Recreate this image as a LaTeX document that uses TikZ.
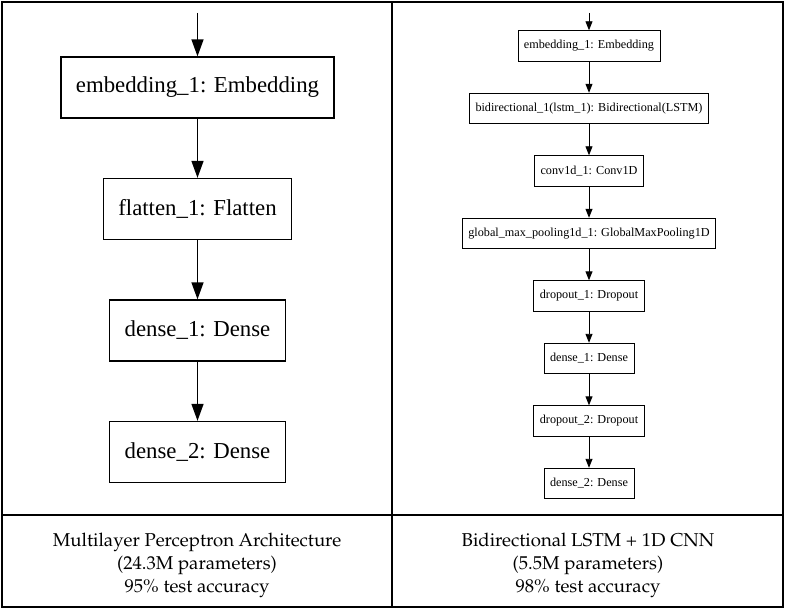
\documentclass[tikz,border=0pt]{standalone}
\usepackage[T1]{fontenc}
\usepackage{fontspec}
\setmainfont{Liberation Serif}
\newfontfamily\layerfont{Liberation Serif}
\usetikzlibrary{positioning,arrows.meta}

\newcommand{\capfont}{\fontencoding{T1}\fontfamily{ppl}\fontsize{18.6}{23}\selectfont}

\tikzset{
  bigbox/.style={draw,line width=1.3pt,font=\layerfont\fontsize{22.8}{27}\selectfont,
    minimum height=61pt,inner xsep=15pt},
  smallbox/.style={draw,line width=0.9pt,font=\layerfont\fontsize{12.2}{14}\selectfont,
    minimum height=30.5pt,inner xsep=6pt},
  bigflow/.style={-{Triangle[length=17pt,width=12pt]},line width=1.4pt},
  smallflow/.style={-{Triangle[length=9pt,width=7pt]},line width=0.9pt},
  caption/.style={align=center,font=\capfont}
}

\begin{document}
\begin{tikzpicture}[x=1pt,y=-1pt,on grid]
  \useasboundingbox (0,0) rectangle (786,612);
  % table
  \draw[line width=1.5pt] (2,2) rectangle (783,607);
  \draw[line width=1.5pt] (392,2) -- (392,607);
  \draw[line width=1.5pt] (2,515) -- (783,515);

  % left: multilayer perceptron
  \begin{scope}[node distance=121.5pt]
    \coordinate (mlp_in) at (197.5,13);
    \node[bigbox] (mlp_emb) at (197.5,87.5) {embedding\_1: Embedding};
    \node[bigbox] (mlp_flat) [below=of mlp_emb] {flatten\_1: Flatten};
    \node[bigbox] (mlp_d1) [below=of mlp_flat] {dense\_1: Dense};
    \node[bigbox] (mlp_d2) [below=of mlp_d1] {dense\_2: Dense};
    \draw[bigflow] (mlp_in) -- (mlp_emb);
    \draw[bigflow] (mlp_emb) -- (mlp_flat);
    \draw[bigflow] (mlp_flat) -- (mlp_d1);
    \draw[bigflow] (mlp_d1) -- (mlp_d2);
  \end{scope}

  % right: bidirectional lstm + cnn
  \begin{scope}[node distance=62.5pt]
    \coordinate (cnn_in) at (589,13);
    \node[smallbox] (cnn_emb) at (589,46) {embedding\_1: Embedding};
    \node[smallbox] (cnn_bi) [below=of cnn_emb] {bidirectional\_1(lstm\_1): Bidirectional(LSTM)};
    \node[smallbox] (cnn_conv) [below=of cnn_bi] {conv1d\_1: Conv1D};
    \node[smallbox] (cnn_pool) [below=of cnn_conv] {global\_max\_pooling1d\_1: GlobalMaxPooling1D};
    \node[smallbox] (cnn_drop1) [below=of cnn_pool] {dropout\_1: Dropout};
    \node[smallbox] (cnn_d1) [below=of cnn_drop1] {dense\_1: Dense};
    \node[smallbox] (cnn_drop2) [below=of cnn_d1] {dropout\_2: Dropout};
    \node[smallbox] (cnn_d2) [below=of cnn_drop2] {dense\_2: Dense};
    \draw[smallflow] (cnn_in) -- (cnn_emb);
    \foreach \a/\b in {emb/bi,bi/conv,conv/pool,pool/drop1,drop1/d1,d1/drop2,drop2/d2}
      \draw[smallflow] (cnn_\a) -- (cnn_\b);
  \end{scope}

  % captions
  \node[caption] (mlp_cap) at (197,565) {Multilayer Perceptron Architecture\\(24.3M parameters)\\95\% test accuracy};
  \node[caption] (cnn_cap) at (588,565) {Bidirectional LSTM + 1D CNN\\(5.5M parameters)\\98\% test accuracy};
\end{tikzpicture}
\end{document}
